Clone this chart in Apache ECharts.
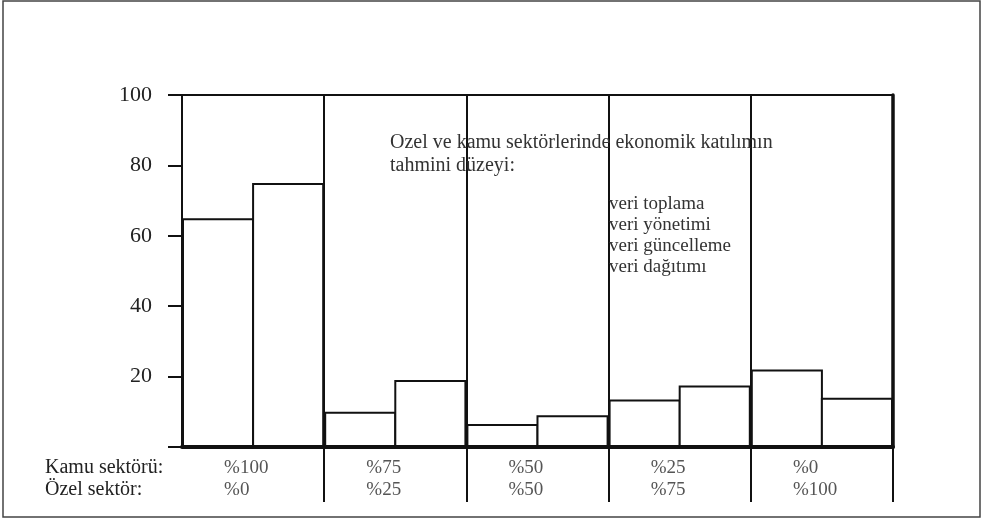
<!DOCTYPE html>
<html>
<head>
<meta charset="utf-8">
<script src="https://cdn.jsdelivr.net/npm/echarts@6/dist/echarts.min.js"></script>
<style>html,body{margin:0;padding:0;background:#fff;}#c{width:983px;height:527px;}</style>
</head>
<body>
<div id="c"></div>
<script>
const kamuShares = ['%100', '%75', '%50', '%25', '%0'];
const ozelShares = ['%0', '%25', '%50', '%75', '%100'];
const seriesA = [65, 10, 6.5, 13.5, 22];
const seriesB = [75, 19, 9, 17.5, 14];
const yTickLabels = ['', '20', '40', '60', '80', '100'];
const rowLabels = ['Kamu sektörü:', 'Özel sektör:'];
const noteLines = ['Ozel ve kamu sektörlerinde ekonomik katılımın', 'tahmini düzeyi:'];
const activityLines = ['veri toplama', 'veri yönetimi', 'veri güncelleme', 'veri dağıtımı'];

const categories = kamuShares.map((k, i) => k + '\n' + ozelShares[i]);
const FONT = 'Liberation Serif';
const INK = '#111';

const chart = echarts.init(document.getElementById('c'), null, {renderer: 'canvas'});
chart.setOption({
  animation: false,
  backgroundColor: '#fff',
  textStyle: {fontFamily: FONT},
  title: [
    {text: noteLines.join('\n'), left: 390, top: 131, padding: 0,
     textStyle: {fontFamily: FONT, fontSize: 20, fontWeight: 'normal', color: '#333', lineHeight: 23}},
    {text: activityLines.join('\n'), left: 609, top: 194, padding: 0,
     textStyle: {fontFamily: FONT, fontSize: 19, fontWeight: 'normal', color: '#333', lineHeight: 21}}
  ],
  graphic: [
    {type: 'rect', shape: {x: 3, y: 1, width: 977, height: 516}, style: {fill: 'none', stroke: '#444', lineWidth: 1.5}, silent: true},
    {type: 'text', left: 45, top: 457, style: {text: rowLabels.join('\n'), fontFamily: FONT, fontSize: 20, lineHeight: 22, fill: '#222'}}
  ],
  grid: {left: 182, right: 90, top: 95, bottom: 80, show: true, borderColor: INK, borderWidth: 2, backgroundColor: 'transparent'},
  xAxis: {
    type: 'category',
    data: categories,
    boundaryGap: true,
    axisLine: {show: true, lineStyle: {color: INK, width: 4}},
    axisTick: {show: true, length: 55, inside: false, interval: function (idx) { return idx !== 0; }, lineStyle: {color: INK, width: 2}},
    splitLine: {show: true, lineStyle: {color: INK, width: 2}},
    axisLabel: {
      interval: 0, margin: 10,
      formatter: function (v) { const p = v.split('\n'); return '{a|' + p[0] + '}\n{a|' + p[1] + '}'; },
      rich: {a: {width: 58, align: 'left', fontFamily: FONT, fontSize: 19, lineHeight: 22, color: '#555'}}
    }
  },
  yAxis: [
    {
      type: 'value', min: 0, max: 100, interval: 20,
      axisLine: {show: true, lineStyle: {color: INK, width: 2}},
      axisTick: {show: true, length: 14, lineStyle: {color: INK, width: 2}},
      splitLine: {show: false},
      axisLabel: {margin: 30, padding: [0, 0, 12, 0], fontFamily: FONT, fontSize: 22, color: '#222',
        formatter: function (v) { return yTickLabels[Math.round(v / 20)]; }}
    },
    {
      type: 'value', min: 0, max: 100, interval: 20, position: 'right',
      axisLine: {show: true, lineStyle: {color: INK, width: 3.5}},
      axisTick: {show: false}, axisLabel: {show: false}, splitLine: {show: false}
    }
  ],
  series: [
    {type: 'bar', name: 'A', data: seriesA, barGap: '-2.8%', barCategoryGap: '0%',
     itemStyle: {color: '#fff', borderColor: INK, borderWidth: 2}},
    {type: 'bar', name: 'B', data: seriesB, barGap: '-2.8%', barCategoryGap: '0%',
     itemStyle: {color: '#fff', borderColor: INK, borderWidth: 2}}
  ]
});
</script>
</body>
</html>
